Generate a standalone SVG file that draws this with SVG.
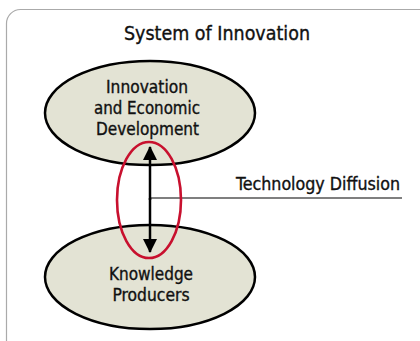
<svg xmlns="http://www.w3.org/2000/svg" width="420" height="341" viewBox="0 0 420 341">
<defs>
<style>
.t{font-family:"DejaVu Sans Condensed","Liberation Sans Narrow","Liberation Sans",sans-serif;fill:#111;stroke:#111;stroke-width:0.35;text-anchor:middle}
.node{fill:#e3e3d4;stroke:#000;stroke-width:2.5}
</style>
<marker id="ah" viewBox="0 0 14 16" refX="13" refY="8" markerWidth="14" markerHeight="16" markerUnits="userSpaceOnUse" orient="auto">
<path d="M0,1 L14,8 L0,15 Z" fill="#000"/>
</marker>
</defs>
<rect x="6.5" y="9.5" width="440" height="350" rx="14" fill="#fff" stroke="#aaa" stroke-width="1.2"/>
<text class="t" x="217" y="40" font-size="19.5" textLength="186" lengthAdjust="spacingAndGlyphs">System of Innovation</text>
<g id="node-innovation">
<ellipse class="node" cx="150" cy="113" rx="105" ry="52"/>
<text class="t" x="147" y="93" font-size="17.5" textLength="82" lengthAdjust="spacingAndGlyphs">Innovation</text>
<text class="t" x="147" y="114" font-size="17.5" textLength="106" lengthAdjust="spacingAndGlyphs">and Economic</text>
<text class="t" x="147.5" y="135" font-size="17.5" textLength="103" lengthAdjust="spacingAndGlyphs">Development</text>
</g>
<g id="node-knowledge">
<ellipse class="node" cx="150" cy="277" rx="105" ry="52"/>
<text class="t" x="151" y="280" font-size="17.5" textLength="84" lengthAdjust="spacingAndGlyphs">Knowledge</text>
<text class="t" x="151" y="301" font-size="17.5" textLength="77" lengthAdjust="spacingAndGlyphs">Producers</text>
</g>
<g id="connectors">
<line x1="150" y1="198" x2="402" y2="198" stroke="#000" stroke-width="1.2"/>
<line x1="150" y1="200" x2="150" y2="147" stroke="#000" stroke-width="2.5" marker-end="url(#ah)"/>
<line x1="150" y1="198" x2="150" y2="252" stroke="#000" stroke-width="2.5" marker-end="url(#ah)"/>
<ellipse cx="149" cy="200" rx="32" ry="58" fill="none" stroke="#c8102e" stroke-width="2.6"/>
</g>
<g id="label-diffusion">
<text class="t" x="318" y="190" font-size="17.5" textLength="164" lengthAdjust="spacingAndGlyphs">Technology Diffusion</text>
</g>
</svg>
